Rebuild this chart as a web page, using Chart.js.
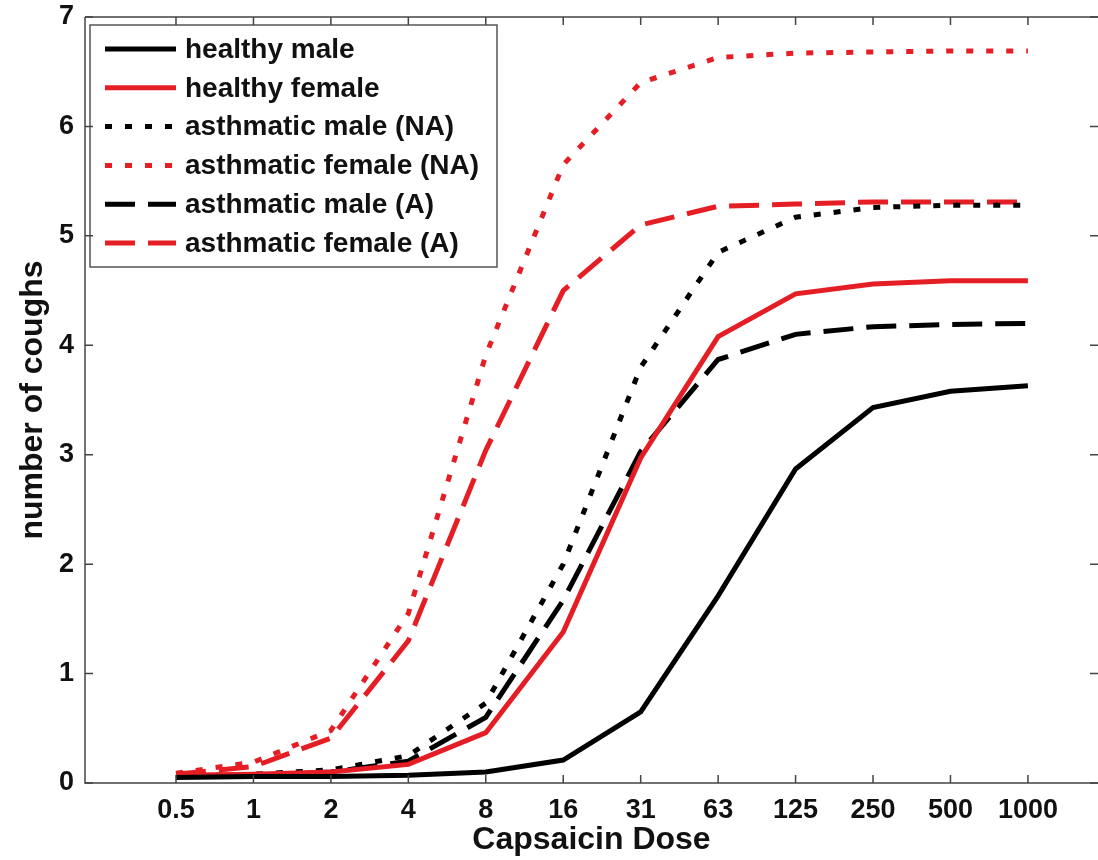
<!DOCTYPE html>
<html>
<head>
<meta charset="utf-8">
<script src="https://cdn.jsdelivr.net/npm/chart.js@4"></script>
<style>
  html, body { margin: 0; padding: 0; background: #fff; }
</style>
</head>
<body>
<canvas id="chart" width="1098" height="860"></canvas>
<script>
// capsaicin dose categories (x axis) and cough counts
const doses = ['0.5', '1', '2', '4', '8', '16', '31', '63', '125', '250', '500', '1000'];
const yTickValues = [0, 1, 2, 3, 4, 5, 6, 7];

const healthyMale        = [0.05, 0.06, 0.06, 0.07, 0.10, 0.21, 0.65, 1.71, 2.87, 3.43, 3.58, 3.63];
const healthyFemale      = [0.07, 0.08, 0.10, 0.17, 0.46, 1.38, 2.97, 4.08, 4.47, 4.56, 4.59, 4.59];
const asthmaticMaleNA    = [0.06, 0.08, 0.12, 0.25, 0.73, 2.00, 3.80, 4.85, 5.17, 5.26, 5.28, 5.28];
const asthmaticFemaleNA  = [0.09, 0.19, 0.48, 1.55, 3.91, 5.65, 6.40, 6.63, 6.67, 6.68, 6.69, 6.69];
const asthmaticMaleA     = [0.06, 0.07, 0.10, 0.20, 0.60, 1.67, 3.03, 3.87, 4.10, 4.17, 4.19, 4.20];
const asthmaticFemaleA   = [0.08, 0.15, 0.41, 1.30, 3.04, 4.50, 5.10, 5.27, 5.29, 5.31, 5.31, 5.31];

const RED = 'rgb(228, 30, 36)';
const BLACK = '#000';
const FONT = '"Liberation Sans", Arial, Helvetica, sans-serif';

function toPoints(values) {
  return values.map((v, i) => ({ x: i, y: v }));
}

function makeSet(label, values, color, dash) {
  return {
    label: label,
    data: toPoints(values),
    borderColor: color,
    backgroundColor: color,
    borderWidth: 5,
    borderDash: dash,
    borderCapStyle: 'butt',
    borderJoinStyle: 'miter',
    pointRadius: 0,
    fill: false,
    tension: 0
  };
}

const DOT = [7, 13];
const DASH = [30, 13];

// boxed legend in the top-left corner, like the MATLAB one
const boxLegend = {
  id: 'boxLegend',
  afterDatasetsDraw(chart) {
    const ctx = chart.ctx;
    const x0 = 90, y0 = 25, w = 407, h = 242;
    ctx.save();
    ctx.fillStyle = '#fff';
    ctx.fillRect(x0, y0, w, h);
    ctx.strokeStyle = '#555';
    ctx.lineWidth = 1.5;
    ctx.strokeRect(x0, y0, w, h);
    chart.data.datasets.forEach((ds, i) => {
      const y = y0 + 24 + i * 38.8;
      ctx.beginPath();
      ctx.setLineDash(ds.borderDash || []);
      ctx.lineCap = 'butt';
      ctx.strokeStyle = ds.borderColor;
      ctx.lineWidth = ds.borderWidth;
      ctx.moveTo(x0 + 15, y);
      ctx.lineTo(x0 + 86, y);
      ctx.stroke();
      ctx.setLineDash([]);
      ctx.fillStyle = '#111';
      ctx.font = 'bold 28px ' + FONT;
      ctx.textBaseline = 'middle';
      ctx.textAlign = 'left';
      ctx.fillText(ds.label, x0 + 95, y + 1);
    });
    ctx.restore();
  }
};

// axes box with inward ticks
const axesFrame = {
  id: 'axesFrame',
  afterDraw(chart) {
    const ctx = chart.ctx;
    const { left, right, top, bottom } = chart.chartArea;
    const xs = chart.scales.x, ys = chart.scales.y;
    ctx.save();
    ctx.strokeStyle = '#444';
    ctx.lineWidth = 1.5;
    ctx.beginPath();
    ctx.moveTo(left, top); ctx.lineTo(left, bottom); ctx.lineTo(right, bottom);
    ctx.moveTo(left, top); ctx.lineTo(right, top);
    ctx.stroke();
    ctx.beginPath();
    doses.forEach((d, i) => {
      const px = xs.getPixelForValue(i);
      ctx.moveTo(px, bottom); ctx.lineTo(px, bottom - 8);
      ctx.moveTo(px, top); ctx.lineTo(px, top + 8);
    });
    yTickValues.forEach(v => {
      const py = ys.getPixelForValue(v);
      ctx.moveTo(left, py); ctx.lineTo(left + 8, py);
      ctx.moveTo(right, py); ctx.lineTo(right - 8, py);
    });
    ctx.stroke();
    ctx.restore();
  }
};

const ctx = document.getElementById('chart').getContext('2d');
new Chart(ctx, {
  type: 'line',
  data: {
    datasets: [
      makeSet('healthy male', healthyMale, BLACK, []),
      makeSet('healthy female', healthyFemale, RED, []),
      makeSet('asthmatic male (NA)', asthmaticMaleNA, BLACK, DOT),
      makeSet('asthmatic female (NA)', asthmaticFemaleNA, RED, DOT),
      makeSet('asthmatic male (A)', asthmaticMaleA, BLACK, DASH),
      makeSet('asthmatic female (A)', asthmaticFemaleA, RED, DASH)
    ]
  },
  options: {
    responsive: false,
    animation: false,
    devicePixelRatio: 1,
    layout: { padding: { top: 17, right: 0, left: 0, bottom: 0 } },
    plugins: {
      legend: { display: false },
      tooltip: { enabled: false }
    },
    scales: {
      x: {
        type: 'linear',
        min: -1.175,
        max: 11.905,
        afterFit: s => { s.height = 77; s.paddingLeft = 0; s.paddingRight = 0; },
        afterBuildTicks: s => { s.ticks = doses.map((d, i) => ({ value: i })); },
        grid: { display: false, drawTicks: false },
        border: { display: false },
        ticks: {
          autoSkip: false,
          maxRotation: 0,
          padding: 11,
          color: '#111',
          font: { family: FONT, size: 27, weight: 'bold' },
          callback: v => doses[v]
        },
        title: {
          display: true,
          text: 'Capsaicin Dose',
          color: '#111',
          padding: { top: 0, bottom: 1 },
          font: { family: FONT, size: 32, weight: 'bold', lineHeight: 1.2 }
        }
      },
      y: {
        min: 0,
        max: 7,
        afterFit: s => { s.width = 85; s.paddingTop = 0; s.paddingBottom = 0; },
        afterBuildTicks: s => { s.ticks = yTickValues.map(v => ({ value: v })); },
        grid: { display: false, drawTicks: false },
        border: { display: false },
        ticks: {
          padding: 11,
          color: '#111',
          font: { family: FONT, size: 27, weight: 'bold' }
        },
        title: {
          display: true,
          text: 'number of coughs',
          color: '#111',
          padding: { top: 14, bottom: 0 },
          font: { family: FONT, size: 32, weight: 'bold', lineHeight: 1.2 }
        }
      }
    }
  },
  plugins: [boxLegend, axesFrame]
});
</script>
</body>
</html>
